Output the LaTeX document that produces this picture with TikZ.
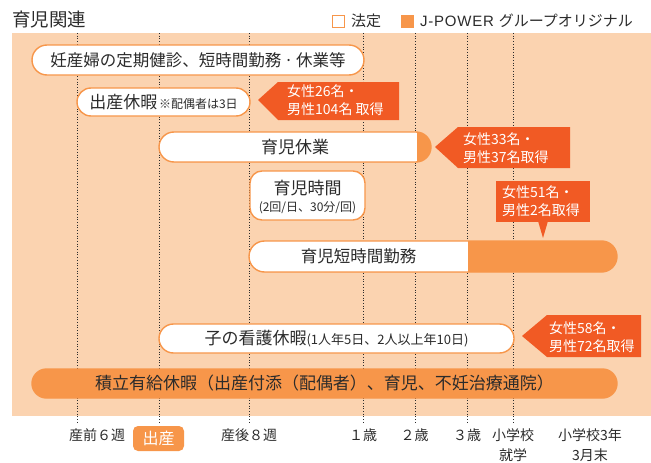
\documentclass[tikz,border=0pt]{standalone}
\usepackage{fontspec}
\setmainfont{Noto Sans CJK JP}
\newfontfamily\lat[LetterSpace=5]{Liberation Sans}
\usetikzlibrary{shapes.misc}
\definecolor{peach}{HTML}{FBD3B0}
\definecolor{org}{HTML}{F7964A}
\definecolor{callred}{HTML}{F15A24}
\definecolor{txt}{HTML}{2B2B2B}
\newcommand{\fs}[1]{\fontsize{#1}{#1}\selectfont}
\tikzset{
  bar/.style={rounded rectangle, draw=org, line width=1.4pt, fill=white, inner sep=0pt, text=txt},
  obar/.style={rounded rectangle, draw=org, line width=1.4pt, fill=org, inner sep=0pt},
  ctext/.style={text=white, font=\fontsize{14}{18}\selectfont, align=left, anchor=west, inner sep=0pt},
  lab/.style={text=txt, font=\fs{14}, inner sep=0pt},
  grid/.style={txt, dotted, line width=0.7pt},
  callout/.style={fill=callred}
}
\begin{document}
\begin{tikzpicture}[x=1pt,y=-1pt]
\useasboundingbox (0,0) rectangle (651,463);
\fill[peach] (12,33) rectangle (651,416);
% grid
\foreach \x in {77,159,249,363,415,467,513}
  \draw[grid] (\x,33) coordinate (t\x) -- (\x,423) coordinate (b\x);
% title and legend
\node[text=txt, font=\fs{18.5}, anchor=west, inner sep=0pt] (title) at (12,20) {育児関連};
\node[draw=org, fill=white, line width=1pt, minimum size=12pt, inner sep=0pt] (lg1) at (338.5,21.5) {};
\node[text=txt, font=\fs{15}, anchor=west, inner sep=0pt] (lg1t) at (351,21) {法定};
\node[fill=org, minimum size=13pt, inner sep=0pt] (lg2) at (407.5,21.5) {};
\node[text=txt, font=\fs{15}, anchor=west, inner sep=0pt] (lg2t) at (420,21) {{\lat J-POWER}\hspace{5pt}グループオリジナル};
% bars
\node[bar, minimum width=332pt, minimum height=30pt] (b1) at (198,60) {\fs{16.5}妊産婦の定期健診、短時間勤務\,·\,休業等};
\node[bar, minimum width=173pt, minimum height=28pt] (b2) at (163.5,102) {{\fs{17}出産休暇}\,{\fs{12}※配偶者は3日}};
\node[obar, minimum width=272pt, minimum height=30pt,
  path picture={\fill[white] (path picture bounding box.north west) rectangle ++(258,30);}] (b3) at (295,147) {};
\node[text=txt, font=\fs{17}, inner sep=0pt] (b3t) at (b3) {育児休業};
\node[bar, rounded rectangle=false, rectangle, rounded corners=12pt, minimum width=115pt, minimum height=49pt] (b4) at (307.5,195.5) {};
\node[text=txt, font=\fs{17}, inner sep=0pt] (b4t) at (307.5,188) {育児時間};
\node[text=txt, font=\fs{12}, inner sep=0pt] (b4s) at (307.5,208) {(2回/日、30分/回)};
\node[obar, minimum width=368pt, minimum height=31pt,
  path picture={\fill[white] (path picture bounding box.north west) rectangle ++(219,31);}] (b5) at (433,256.5) {};
\node[text=txt, font=\fs{16.5}, inner sep=0pt] (b5t) at (358.5,256.5) {育児短時間勤務};
\node[bar, minimum width=355pt, minimum height=29pt] (b6) at (336.5,338.5) {{\fs{17}子の看護休暇}{\fs{13}(1人年5日、2人以上年10日)}};
\node[obar, minimum width=585pt, minimum height=29pt, text=txt] (b7) at (324.5,383.5) {\fs{17}積立有給休暇（出産付添（配偶者）、育児、不妊治療通院）};
% callouts
\fill[callout] (258,100) coordinate (c1tip) -- (278,82) -- (399,82) -- (399,120) -- (278,120) -- cycle;
\node[ctext] (c1) at (287,100) {女性26名・\\男性104名 取得};
\fill[callout] (435,147) coordinate (c2tip) -- (458,127) -- (570,127) -- (570,168) -- (458,168) -- cycle;
\node[ctext] (c2) at (463,148) {女性33名・\\男性37名取得};
\fill[callout] (496,181) rectangle (590,222);
\fill[callout] (538,221) -- (548,221) -- (543,238) coordinate (c3tip) -- cycle;
\node[ctext] (c3) at (502,201.5) {女性51名・\\男性2名取得};
\fill[callout] (522,336) coordinate (c4tip) -- (547,315) -- (641,315) -- (641,357) -- (547,357) -- cycle;
\node[ctext] (c4) at (549,337.5) {女性58名・\\男性72名取得};
% bottom labels
\node[lab] (l1) at (97,435) {産前６週};
\node[fill=org, rounded corners=5pt, minimum width=51pt, minimum height=25pt, inner sep=0pt, text=white, font=\fs{16}] (birth) at (158.5,438.5) {出産};
\node[lab] (l3) at (249,435) {産後８週};
\node[lab] (l4) at (363,435) {１歳};
\node[lab] (l5) at (414.5,435) {２歳};
\node[lab] (l6) at (467,435) {３歳};
\node[lab] (l7) at (513,435) {小学校};
\node[lab] (l7b) at (513,455) {就学};
\node[lab] (l8) at (590,435) {小学校3年};
\node[lab] (l8b) at (590,455) {3月末};
\end{tikzpicture}
\end{document}
